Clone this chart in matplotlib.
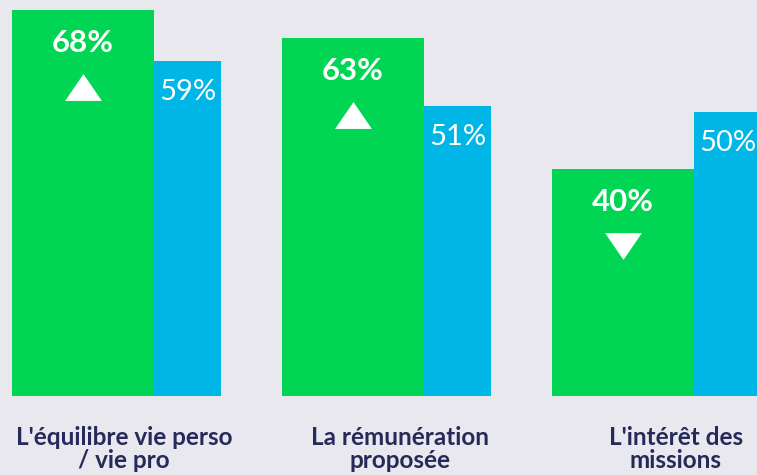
import matplotlib
matplotlib.use("Agg")
import matplotlib.pyplot as plt
import matplotlib.transforms as mtransforms
import numpy as np

categories = ["L'équilibre vie perso\n/ vie pro", "La rémunération\nproposée", "L'intérêt des\nmissions"]
green_vals = [68, 63, 40]
blue_vals = [59, 51, 50]
trend = ["up", "up", "down"]

bg = "#E9E8EE"
green = "#00D653"
blue = "#00B6E6"
navy = "#252A5A"

fig = plt.figure(figsize=(7.57, 4.75), dpi=100, facecolor=bg)
ax = fig.add_axes([0, 79 / 475, 1, 396 / 475])
ax.set_facecolor(bg)

x = np.arange(len(categories))
gw = 142 / 270
bw = 67 / 270
ax.bar(x, green_vals, width=gw, align="edge", color=green, edgecolor="none")
ax.bar(x + gw, blue_vals, width=bw, align="edge", color=blue, edgecolor="none")

ax.set_xlim(-12 / 270, 745 / 270)
ax.set_ylim(0, 396 / 5.68)
ax.axis("off")

# px -> data units in y
pxy = (396 / 5.68) / 396

up_tri = [(-1, -0.73), (1, -0.73), (0, 0.73)]
down_tri = [(-1, 0.73), (1, 0.73), (0, -0.73)]

for i in range(len(categories)):
    gx = x[i] + gw / 2
    bx = x[i] + gw + bw / 2
    ax.text(gx, green_vals[i] - 33 * pxy, f"{green_vals[i]}%", color="white",
            fontsize=22.5, fontweight="bold", family="Lato", ha="center", va="center")
    marker = up_tri if trend[i] == "up" else down_tri
    ax.plot(gx, green_vals[i] - 77 * pxy, marker=marker, color="white",
            markersize=26.5, markeredgewidth=0, clip_on=False)
    ax.text(bx, blue_vals[i] - 31 * pxy, f"{blue_vals[i]}%", color="white",
            fontsize=21, fontweight="normal", family="Lato", ha="center", va="center")

trans = mtransforms.blended_transform_factory(ax.transData, fig.transFigure)
for i, cat in enumerate(categories):
    ax.text(i * 1.022 + 0.415, 1 - 449 / 475, cat, transform=trans,
            color=navy, fontsize=17.5, fontweight="bold", family="Lato",
            ha="center", va="center", linespacing=1.05, clip_on=False)

fig.savefig("out.png", dpi=100, facecolor=bg)
